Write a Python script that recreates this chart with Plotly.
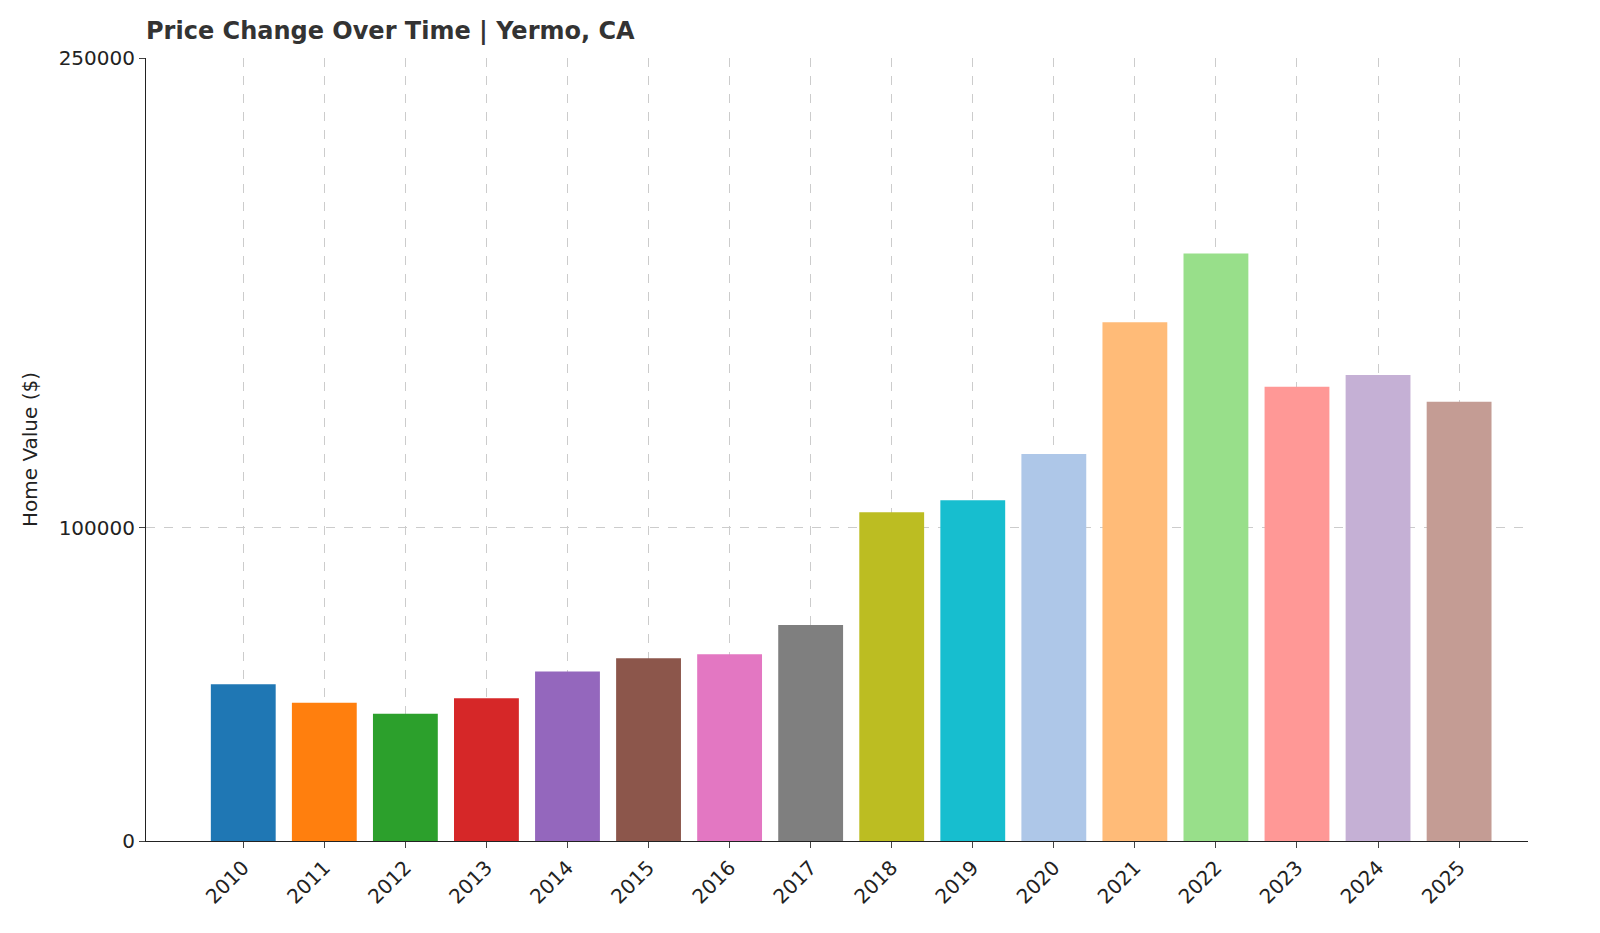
import plotly.graph_objects as go

years = [str(y) for y in range(2010, 2026)]
values = [50013, 44137, 40640, 45594, 54090, 58318, 59609, 68951, 104987,
          108769, 123585, 165649, 187573, 145000, 148804, 140269]
changes = [None, -11.75, -7.92, 12.19, 18.63, 7.82, 2.21, 15.67, 52.26,
           3.60, 13.62, 34.04, 13.24, -22.70, 2.62, -5.74]
colors = ['#1f77b4', '#ff7f0e', '#2ca02c', '#d62728', '#9467bd', '#8c564b',
          '#e377c2', '#7f7f7f', '#bcbd22', '#17becf', '#aec7e8', '#ffbb78',
          '#98df8a', '#ff9896', '#c5b0d5', '#c49c94']
y_ticks = [0, 100000, 250000]

fig = go.Figure(go.Bar(x=years, y=values, marker=dict(color=colors, line=dict(width=0))))

for yr, v, c in zip(years, values, changes):
    txt = f"${v:,}" if c is None else f"${v:,}<br>({c:+.2f}%)"
    fig.add_annotation(x=yr, y=v, text=txt, textangle=-90, showarrow=False,
                       yanchor='bottom', yshift=6,
                       font=dict(family='DejaVu Sans', size=13, color='#333'))

fig.update_layout(
    width=1600, height=933, plot_bgcolor='white', paper_bgcolor='white',
    margin=dict(l=138, r=80, t=50, b=100), bargap=0.2, showlegend=False,
    font=dict(family='DejaVu Sans', color='#222'),
    title=dict(text='<b>Price Change Over Time | Yermo, CA</b>', x=138/1600, xanchor='left',
               y=0.985, yanchor='top', font=dict(size=24, color='#333')),
    xaxis=dict(type='category', range=[-1.2, 15.85], tickangle=-45, tickfont=dict(size=20),
               showgrid=True, gridcolor='#ccc', griddash='dash', showline=True,
               linecolor='#222', ticks='outside', ticklen=6),
    yaxis=dict(range=[0, 250000], tickvals=y_ticks, ticktext=[str(t) for t in y_ticks],
               tickfont=dict(size=20), title=dict(text='Home Value ($)', font=dict(size=20)),
               showgrid=True, gridcolor='#ccc', griddash='dash', zeroline=False,
               showline=True, linecolor='#222', ticks='outside', ticklen=6),
)
fig.write_html("out.html")
